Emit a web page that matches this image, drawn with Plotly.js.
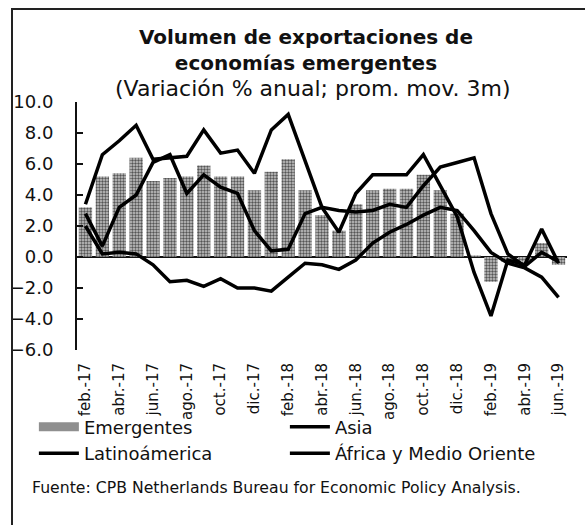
<!DOCTYPE html>
<html>
<head>
<meta charset="utf-8">
<script src="https://cdn.plot.ly/plotly-3.0.1.min.js"></script>
<style>
  body { margin: 0; background: #fff; }
  #chart { position: absolute; left: 0; top: 0; width: 585px; height: 525px; }
  #frame { position: absolute; left: 11px; top: 8px; width: 580px; height: 520px;
           border-left: 2px solid #222; border-top: 2px solid #222; pointer-events: none; }
</style>
</head>
<body>
<div id="chart"></div>
<div id="frame"></div>
<script>
// meses (promedio movil 3m)
var meses = ['feb.-17', 'mar.-17', 'abr.-17', 'may.-17', 'jun.-17', 'jul.-17', 'ago.-17', 'sep.-17', 'oct.-17', 'nov.-17', 'dic.-17', 'ene.-18',
             'feb.-18', 'mar.-18', 'abr.-18', 'may.-18', 'jun.-18', 'jul.-18', 'ago.-18', 'sep.-18', 'oct.-18', 'nov.-18', 'dic.-18', 'ene.-19',
             'feb.-19', 'mar.-19', 'abr.-19', 'may.-19', 'jun.-19'];

// variacion % anual
var emergentes = [3.2, 5.2, 5.4, 6.4, 4.9, 5.1, 5.2, 5.9, 5.2, 5.2, 4.3, 5.5, 6.3, 4.3, 2.7, 1.7, 3.4, 4.3, 4.4, 4.4, 5.3, 4.3, 2.8, 0.1, -1.6, -0.3, -0.3, 0.9, -0.5];
var asia = [3.4, 6.6, 7.5, 8.5, 6.3, 6.4, 6.5, 8.2, 6.7, 6.9, 5.4, 8.2, 9.2, 6.2, 3.2, 1.6, 4.1, 5.3, 5.3, 5.3, 6.6, 4.6, 2.6, -1.0, -3.8, -0.2, -0.5, 1.8, -0.4];
var latam = [2.8, 0.7, 3.2, 4.0, 6.1, 6.6, 4.1, 5.3, 4.5, 4.1, 1.7, 0.4, 0.5, 2.8, 3.2, 3.0, 2.9, 3.0, 3.4, 3.2, 4.6, 5.8, 6.1, 6.4, 2.8, 0.2, -0.6, 0.3, -0.3];
var africaMO = [2.0, 0.2, 0.3, 0.2, -0.5, -1.6, -1.5, -1.9, -1.4, -2.0, -2.0, -2.2, -1.3, -0.4, -0.5, -0.8, -0.2, 0.9, 1.6, 2.1, 2.7, 3.2, 3.0, 1.7, 0.3, -0.4, -0.7, -1.3, -2.6];

// etiquetas cada dos meses
var etiquetas = meses.filter(function (m, i) { return i % 2 === 0; });

var FONT = 'DejaVu Sans, sans-serif';

var barras = {
    x: meses, y: emergentes, type: 'bar', name: 'Emergentes', showlegend: false,
    hoverinfo: 'none',
    marker: {
        color: '#9a9a9a',
        pattern: { shape: '.', fgcolor: '#555', bgcolor: '#c8c8c8', size: 3, solidity: 0.5 },
        line: { width: 0 }
    }
};

// solo para la leyenda de las barras
var leyendaEmerg = {
    x: [null], y: [null], type: 'scatter', mode: 'lines', name: 'Emergentes',
    line: { color: '#8f8f8f', width: 9 }
};

function linea(y, nombre, ancho) {
    return {
        x: meses, y: y, type: 'scatter', mode: 'lines', name: nombre,
        hoverinfo: 'none',
        line: { color: '#000', width: ancho }
    };
}

var data = [barras, leyendaEmerg, linea(asia, 'Asia', 3.5), linea(latam, 'Latinoámerica', 3.5), linea(africaMO, 'África y Medio Oriente', 3.5)];

var layout = {
    width: 585, height: 525,
    margin: { l: 77, r: 18, t: 102, b: 175 },
    paper_bgcolor: '#fff', plot_bgcolor: '#fff',
    font: { family: FONT, color: '#111', size: 17 },
    title: {
        text: '<b>Volumen de exportaciones de<br>economías emergentes</b>',
        font: { family: FONT, size: 20, color: '#111' },
        x: 0.523, xanchor: 'center', xref: 'container',
        y: 0.917, yanchor: 'top', yref: 'container'
    },
    showlegend: true,
    legend: {
        orientation: 'h', x: -0.088, xanchor: 'left', y: -0.236, yanchor: 'top',
        entrywidth: 196, itemwidth: 40, tracegroupgap: 0, bgcolor: 'rgba(0,0,0,0)',
        font: { family: FONT, size: 18, color: '#111' }
    },
    bargap: 0.21,
    xaxis: {
        type: 'category', range: [-0.5, 28.5],
        tickvals: etiquetas, ticktext: etiquetas, tickangle: -90,
        showline: false, showgrid: false, zeroline: false, ticks: '',
        ticklabelstandoff: 9,
        tickfont: { family: FONT, size: 15, color: '#111' }
    },
    yaxis: {
        range: [-6, 10], dtick: 2, tickformat: '.1f',
        showline: true, linecolor: '#111', linewidth: 2,
        ticks: 'inside', ticklen: 6, tickwidth: 2, tickcolor: '#111',
        showgrid: false,
        zeroline: true, zerolinecolor: '#111', zerolinewidth: 2,
        ticklabelstandoff: 18,
        tickfont: { family: FONT, size: 18, color: '#111' }
    },
    annotations: [
        { text: '(Variación % anual; prom. mov. 3m)', xref: 'paper', yref: 'paper',
          x: 0.482, y: 1.055, xanchor: 'center', yanchor: 'middle', showarrow: false,
          font: { family: FONT, size: 22, color: '#111' } },
        { text: 'Fuente: CPB Netherlands Bureau for Economic Policy Analysis.', xref: 'paper', yref: 'paper',
          x: -0.096, y: -0.553, xanchor: 'left', yanchor: 'middle', showarrow: false,
          font: { family: FONT, size: 15.7, color: '#111' } }
    ]
};

Plotly.newPlot('chart', data, layout, { displayModeBar: false, staticPlot: true });
</script>
</body>
</html>
